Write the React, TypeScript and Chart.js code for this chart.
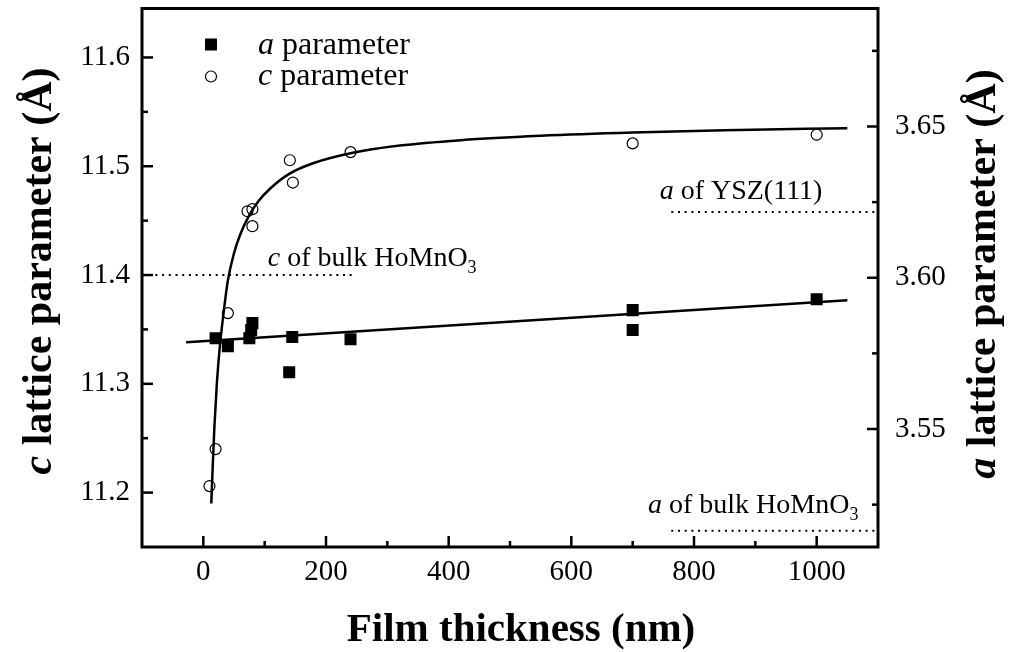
import { useEffect, useRef } from "react";
import { Chart, registerables } from "chart.js";

Chart.register(...registerables);

const SERIF = '"Liberation Serif", "Times New Roman", serif';

// Measured samples: film thickness (nm) and lattice parameters (Å)
const aThickness = [20, 40, 75, 78, 80, 140, 145, 240, 700, 700, 1000];
const aValues = [3.58, 3.5774, 3.58, 3.5827, 3.585, 3.5688, 3.5804, 3.5797, 3.5827, 3.5893, 3.5929];
const cThickness = [10, 20, 40, 72, 80, 80, 141, 146, 240, 700, 1000];
const cValues = [11.206, 11.24, 11.365, 11.4586, 11.4605, 11.4449, 11.5055, 11.485, 11.513, 11.521, 11.529];

// Fitted trends
const cFitThickness = [13, 15, 18, 22, 27, 33, 40, 50, 60, 75, 90, 110, 140, 180, 240, 320, 420, 550, 700, 850, 1050];
const cFitValues = [11.19, 11.22, 11.26, 11.3, 11.335, 11.365, 11.395, 11.42, 11.437, 11.455, 11.468, 11.48, 11.493, 11.503, 11.512, 11.519, 11.524, 11.528, 11.531, 11.533, 11.535];
const aFitThickness = [-28, 1050];
const aFitValues = [3.5787, 3.5926];

// Reference levels
const cBulkHoMnO3 = 11.4;
const cBulkSpan = [-100, 242];
const aYsz111 = 3.6217;
const aBulkHoMnO3 = 3.5164;
const aRefSpan = [763, 1100];

// Axis ticks
const thicknessTicks = [0, 200, 400, 600, 800, 1000];
const thicknessMinor = [100, 300, 500, 700, 900];
const cTicks = [11.2, 11.3, 11.4, 11.5, 11.6];
const cMinor = [11.25, 11.35, 11.45, 11.55];
const aTicks = [3.55, 3.6, 3.65];
const aMinor = [3.525, 3.575, 3.625, 3.675];

type Run = { text: string; font: string; dy?: number };

const noteFont = `28px ${SERIF}`;
const noteItalic = `italic 28px ${SERIF}`;
const noteSub = `18px ${SERIF}`;
const legendFont = `32px ${SERIF}`;
const legendItalic = `italic 32px ${SERIF}`;
const xTitleFont = `bold 41px ${SERIF}`;
const yTitleFont = `bold 42px ${SERIF}`;
const yTitleItalic = `italic bold 42px ${SERIF}`;

function runsWidth(ctx: CanvasRenderingContext2D, runs: Run[]) {
  let w = 0;
  for (const r of runs) {
    ctx.font = r.font;
    w += ctx.measureText(r.text).width;
  }
  return w;
}

function drawRuns(ctx: CanvasRenderingContext2D, runs: Run[], x: number, y: number) {
  let cx = x;
  for (const r of runs) {
    ctx.font = r.font;
    ctx.fillText(r.text, cx, y + (r.dy || 0));
    cx += ctx.measureText(r.text).width;
  }
}

const xy = (xs: number[], ys: number[]) => xs.map((x, i) => ({ x, y: ys[i] }));
const flat = (span: number[], v: number) => span.map((x) => ({ x, y: v }));

const decorations = {
  id: "decorations",
  afterDraw(chart: any) {
    const { ctx, chartArea: ca, scales } = chart;
    const sx = scales.x;
    const sc = scales.yC;
    const sa = scales.yA;
    const MAJOR = 11;
    const MINOR = 6;
    ctx.save();
    ctx.strokeStyle = "#000";
    ctx.fillStyle = "#000";
    ctx.lineWidth = 2.5;
    const seg = (x1: number, y1: number, x2: number, y2: number) => {
      ctx.beginPath();
      ctx.moveTo(x1, y1);
      ctx.lineTo(x2, y2);
      ctx.stroke();
    };
    // inward tick marks
    thicknessTicks.forEach((v) => {
      const p = sx.getPixelForValue(v);
      seg(p, ca.bottom, p, ca.bottom - MAJOR);
    });
    thicknessMinor.forEach((v) => {
      const p = sx.getPixelForValue(v);
      seg(p, ca.bottom, p, ca.bottom - MINOR);
    });
    cTicks.forEach((v) => {
      const p = sc.getPixelForValue(v);
      seg(ca.left, p, ca.left + MAJOR, p);
    });
    cMinor.forEach((v) => {
      const p = sc.getPixelForValue(v);
      seg(ca.left, p, ca.left + MINOR, p);
    });
    aTicks.forEach((v) => {
      const p = sa.getPixelForValue(v);
      seg(ca.right, p, ca.right - MAJOR, p);
    });
    aMinor.forEach((v) => {
      const p = sa.getPixelForValue(v);
      seg(ca.right, p, ca.right - MINOR, p);
    });

    // frame
    ctx.lineWidth = 3;
    ctx.strokeRect(ca.left, ca.top, ca.right - ca.left, ca.bottom - ca.top);

    // legend
    ctx.textBaseline = "alphabetic";
    ctx.textAlign = "left";
    ctx.fillRect(ca.left + 63, ca.top + 30, 12, 12);
    ctx.lineWidth = 1.2;
    ctx.beginPath();
    ctx.arc(ca.left + 69, ca.top + 68, 5.5, 0, Math.PI * 2);
    ctx.stroke();
    drawRuns(ctx, [
      { text: "a", font: legendItalic },
      { text: " parameter", font: legendFont },
    ], ca.left + 116, ca.top + 45);
    drawRuns(ctx, [
      { text: "c", font: legendItalic },
      { text: " parameter", font: legendFont },
    ], ca.left + 116, ca.top + 76);

    // reference line notes
    drawRuns(ctx, [
      { text: "c", font: noteItalic },
      { text: " of bulk HoMnO", font: noteFont },
      { text: "3", font: noteSub, dy: 7 },
    ], sx.getPixelForValue(105), sc.getPixelForValue(cBulkHoMnO3) - 9);
    drawRuns(ctx, [
      { text: "a", font: noteItalic },
      { text: " of YSZ(111)", font: noteFont },
    ], sx.getPixelForValue(744), sa.getPixelForValue(aYsz111) - 13);
    drawRuns(ctx, [
      { text: "a", font: noteItalic },
      { text: " of bulk HoMnO", font: noteFont },
      { text: "3", font: noteSub, dy: 7 },
    ], sx.getPixelForValue(725), sa.getPixelForValue(aBulkHoMnO3) - 18);

    // axis titles
    const xTitle: Run[] = [{ text: "Film thickness (nm)", font: xTitleFont }];
    drawRuns(ctx, xTitle, 521 - runsWidth(ctx, xTitle) / 2, 641);

    const leftTitle: Run[] = [
      { text: "c", font: yTitleItalic },
      { text: " lattice parameter (Å)", font: yTitleFont },
    ];
    ctx.save();
    ctx.translate(40, 271);
    ctx.rotate(-Math.PI / 2);
    drawRuns(ctx, leftTitle, -runsWidth(ctx, leftTitle) / 2, 11);
    ctx.restore();

    const rightTitle: Run[] = [
      { text: "a", font: yTitleItalic },
      { text: " lattice parameter (Å)", font: yTitleFont },
    ];
    ctx.save();
    ctx.translate(984, 274);
    ctx.rotate(-Math.PI / 2);
    drawRuns(ctx, rightTitle, -runsWidth(ctx, rightTitle) / 2, 11);
    ctx.restore();

    ctx.restore();
  },
};

// keep the plot frame fixed: no extra room for label overflow
const clearPadding = (s: any) => {
  s.paddingTop = 0;
  s.paddingBottom = 0;
  s.paddingLeft = 0;
  s.paddingRight = 0;
};

export default function App() {
  const canvasRef = useRef<HTMLCanvasElement | null>(null);

  useEffect(() => {
    const canvas = canvasRef.current;
    if (!canvas) return;
    const dotted = { borderColor: "#000", borderWidth: 2, borderDash: [2, 4.7], pointRadius: 0, showLine: true, fill: false };
    const chart = new Chart(canvas, {
      type: "scatter",
      data: {
        datasets: [
          {
            label: "a parameter",
            data: xy(aThickness, aValues),
            yAxisID: "yA",
            pointStyle: "rect",
            pointRadius: 8.5,
            backgroundColor: "#000",
            borderColor: "#000",
            borderWidth: 0,
            order: 0,
          },
          {
            label: "c parameter",
            data: xy(cThickness, cValues),
            yAxisID: "yC",
            pointStyle: "circle",
            pointRadius: 5.5,
            backgroundColor: "rgba(0,0,0,0)",
            borderColor: "#000",
            borderWidth: 1.2,
            order: 1,
          },
          {
            label: "c fit",
            data: xy(cFitThickness, cFitValues),
            yAxisID: "yC",
            showLine: true,
            cubicInterpolationMode: "monotone",
            borderColor: "#000",
            borderWidth: 2.5,
            pointRadius: 0,
            order: 2,
          },
          {
            label: "a fit",
            data: xy(aFitThickness, aFitValues),
            yAxisID: "yA",
            showLine: true,
            borderColor: "#000",
            borderWidth: 2.5,
            pointRadius: 0,
            order: 2,
          },
          { label: "c bulk", data: flat(cBulkSpan, cBulkHoMnO3), yAxisID: "yC", order: 3, ...dotted },
          { label: "a YSZ", data: flat(aRefSpan, aYsz111), yAxisID: "yA", order: 3, ...dotted },
          { label: "a bulk", data: flat(aRefSpan, aBulkHoMnO3), yAxisID: "yA", order: 3, ...dotted },
        ] as any,
      },
      options: {
        responsive: false,
        animation: false,
        events: [],
        layout: { padding: { top: 8, left: 0, right: 0, bottom: 0 } },
        plugins: { legend: { display: false }, tooltip: { enabled: false } },
        scales: {
          x: {
            type: "linear",
            position: "bottom",
            min: -100,
            max: 1100,
            grid: { display: false, drawTicks: false },
            border: { display: false },
            ticks: {
              font: { family: SERIF, size: 29 },
              color: "#000",
              padding: 8,
              maxRotation: 0,
              autoSkip: false,
              callback: (v: any) => String(v),
            },
            afterBuildTicks: (s: any) => {
              s.ticks = thicknessTicks.map((value) => ({ value }));
            },
            afterFit: (s: any) => {
              s.height = 105;
              clearPadding(s);
            },
          },
          yC: {
            type: "linear",
            position: "left",
            min: 11.15,
            max: 11.645,
            grid: { display: false, drawTicks: false },
            border: { display: false },
            ticks: {
              font: { family: SERIF, size: 29 },
              color: "#000",
              padding: 12,
              callback: (v: any) => Number(v).toFixed(1),
            },
            afterBuildTicks: (s: any) => {
              s.ticks = cTicks.map((value) => ({ value }));
            },
            afterFit: (s: any) => {
              s.width = 142;
              clearPadding(s);
            },
          },
          yA: {
            type: "linear",
            position: "right",
            min: 3.511,
            max: 3.689,
            grid: { display: false, drawTicks: false },
            border: { display: false },
            ticks: {
              font: { family: SERIF, size: 29 },
              color: "#000",
              padding: 17,
              callback: (v: any) => Number(v).toFixed(2),
            },
            afterBuildTicks: (s: any) => {
              s.ticks = aTicks.map((value) => ({ value }));
            },
            afterFit: (s: any) => {
              s.width = 135;
              clearPadding(s);
            },
          },
        },
      } as any,
      plugins: [decorations],
    });
    return () => chart.destroy();
  }, []);

  return (
    <div style={{ position: "absolute", left: 0, top: 0, width: 1013, height: 652, background: "#fff" }}>
      <canvas ref={canvasRef} width={1013} height={652} style={{ display: "block" }} />
    </div>
  );
}
